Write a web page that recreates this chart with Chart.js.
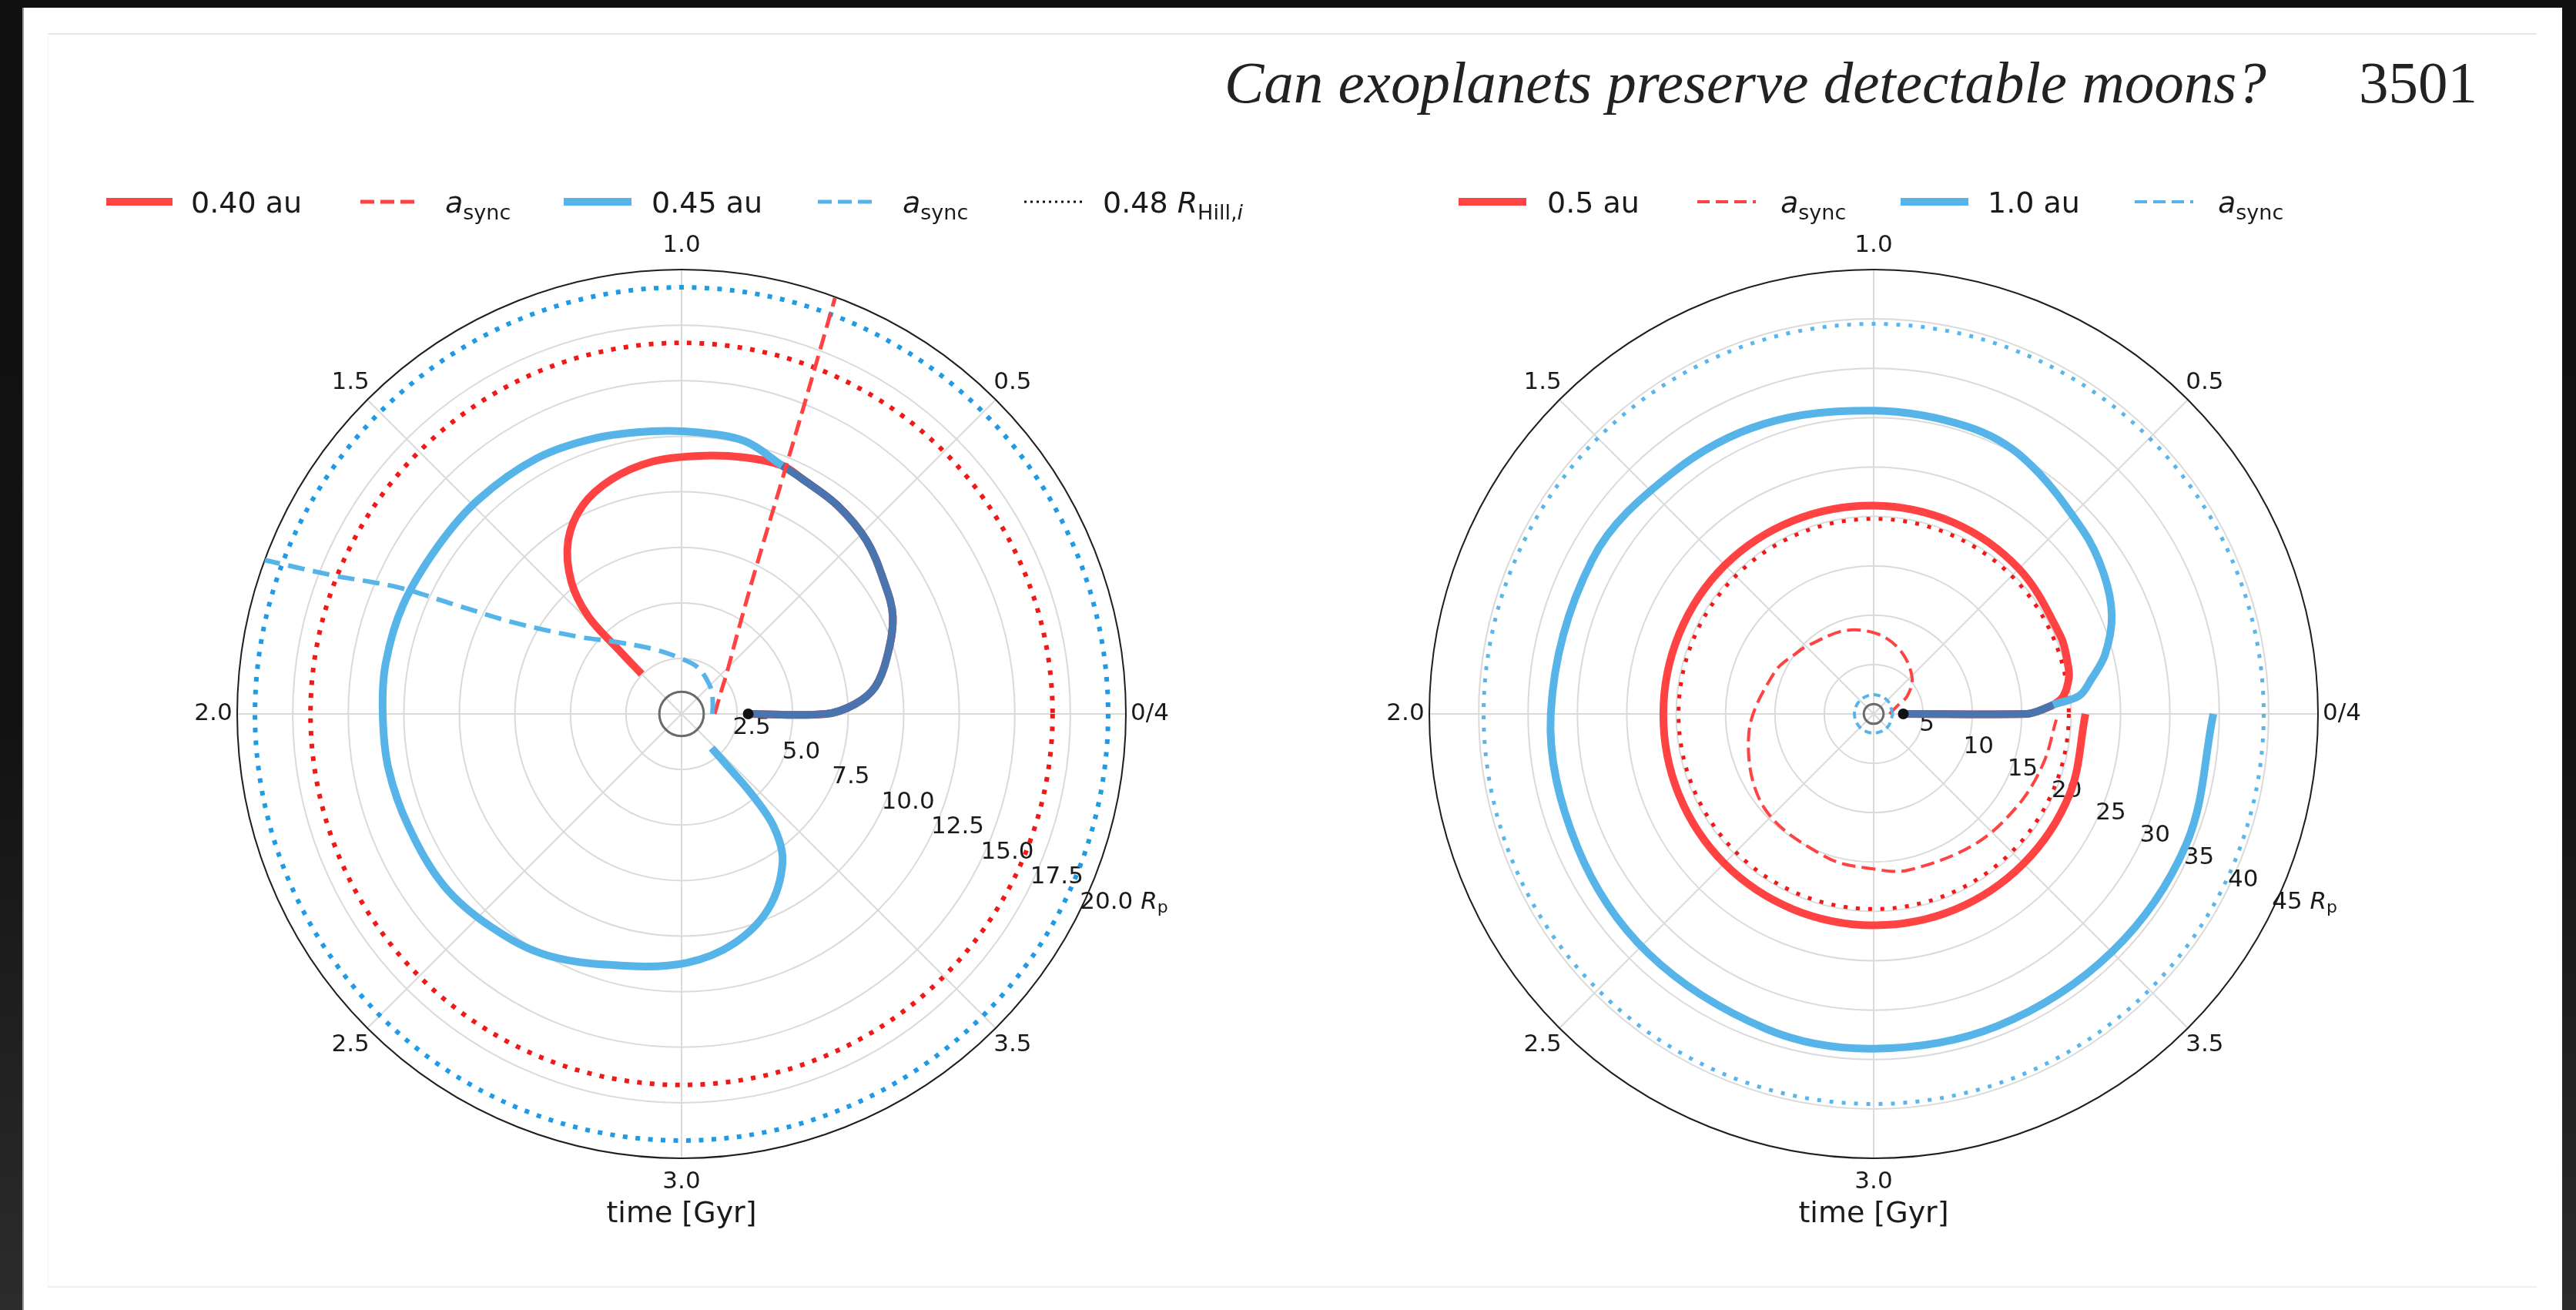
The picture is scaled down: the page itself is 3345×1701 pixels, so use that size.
<!DOCTYPE html>
<html>
<head>
<meta charset="utf-8">
<script src="https://cdn.jsdelivr.net/npm/chart.js@4.4.0/dist/chart.umd.min.js"></script>
<style>
    html, body { margin: 0; padding: 0; }
    body {
        width: 3345px; height: 1701px; position: relative; overflow: hidden;
        background: linear-gradient(#101010 0%, #121212 55%, #2c2c2c 100%);
    }
    #page { position: absolute; left: 29px; top: 10px; width: 3298px; height: 1691px; background: #fff; border-left: 2px solid #9a9a9a; box-sizing: border-box; }
    #frame { position: absolute; left: 62px; top: 43px; width: 3232px; height: 1629px; border-top: 2px solid #e6e6e6; border-left: 1px solid #f3f3f3; border-bottom: 2px solid #efefef; box-sizing: border-box; }
    .head { position: absolute; font-family: "Liberation Serif", serif; font-size: 77px; line-height: 77px; color: #222; white-space: nowrap; }
    canvas { position: absolute; }
</style>
</head>
<body>
<div id="page"></div>
<div id="frame"></div>
<div class="head" style="left:1590px; top:69px; font-style:italic;">Can exoplanets preserve detectable moons?</div>
<div class="head" style="left:3063px; top:69px;">3501</div>
<canvas id="left-chart" width="1600" height="1460" style="left:60px; top:200px;"></canvas>
<canvas id="right-chart" width="1640" height="1460" style="left:1660px; top:200px;"></canvas>
<script>
// shared angular axis: time in Gyr, one full turn = 4 Gyr
const timeTickValues = [0, 0.5, 1, 1.5, 2, 2.5, 3, 3.5];
const timeTickLabels = ['0/4', '0.5', '1.0', '1.5', '2.0', '2.5', '3.0', '3.5'];

// left panel (radius in planet radii)
const leftRMax = 20;
const leftRadialTicks = [2.5, 5, 7.5, 10, 12.5, 15, 17.5, 20];
const leftRadialLabels = ['2.5', '5.0', '7.5', '10.0', '12.5', '15.0', '17.5', '20.0'];
const orbit040Time = [0, 0, 0.036, 0.089, 0.171, 0.275, 0.369, 0.479, 0.591, 0.697, 0.755, 0.846, 0.958, 1.074, 1.184, 1.282, 1.369, 1.442, 1.486, 1.494, 1.5];
const orbit040Radius = [3.0, 6.5, 7.82, 8.81, 9.59, 10.47, 10.89, 11.41, 11.72, 11.89, 12.06, 11.89, 11.64, 11.43, 11.02, 10.38, 9.32, 7.76, 6.06, 4.12, 2.54];
const orbit045Time = [0, 0, 0.036, 0.089, 0.171, 0.275, 0.369, 0.479, 0.591, 0.697, 0.755, 0.854, 0.962, 1.066, 1.196, 1.329, 1.483, 1.617, 1.762, 1.892, 2.0, 2.117, 2.25, 2.398, 2.532, 2.678, 2.869, 3.014, 3.141, 3.267, 3.381, 3.436, 3.458, 3.46, 3.46];
const orbit045Radius = [3.0, 6.5, 7.82, 8.81, 9.59, 10.47, 10.89, 11.41, 11.72, 11.89, 12.06, 12.6, 12.69, 12.79, 13.01, 13.22, 13.29, 13.31, 13.46, 13.51, 13.45, 13.42, 13.29, 13.2, 12.87, 12.43, 11.59, 11.2, 10.61, 9.6, 8.07, 6.57, 4.69, 3.11, 2.05];
const sync040Time = [0, 0.31, 0.47, 0.62, 0.70, 0.74, 0.76, 0.775];
const sync040Radius = [1.49, 1.99, 2.76, 4.54, 7.37, 11.22, 15.1, 19.95];
const sync045Time = [0, 0.25, 0.46, 0.78, 1.01, 1.25, 1.47, 1.593, 1.683, 1.714, 1.733, 1.759, 1.775];
const sync045Radius = [1.39, 1.52, 1.76, 2.21, 2.5, 3.14, 4.38, 5.83, 8.63, 11.31, 14.01, 16.86, 20.0];
const hill040 = 16.7;
const hill045 = 19.2;

// right panel
const rightRMax = 45;
const rightRadialTicks = [5, 10, 15, 20, 25, 30, 35, 40, 45];
const rightRadialLabels = ['5', '10', '15', '20', '25', '30', '35', '40', '45'];
const orbit05Time = [0, 0, 0.01, 0.032, 0.06, 0.116, 0.16, 0.25, 0.5, 0.75, 1.0, 1.25, 1.5, 1.75, 2.0, 2.25, 2.5, 2.75, 3.0, 3.25, 3.5, 3.75, 4.0];
const orbit05Radius = [3.0, 15.5, 16.6, 18.2, 19.3, 20.1, 20.3, 20.5, 20.8, 21.0, 21.1, 21.2, 21.3, 21.3, 21.3, 21.35, 21.4, 21.4, 21.4, 21.45, 21.45, 21.45, 21.45];
const orbit10Time = [0, 0, 0.01, 0.032, 0.056, 0.1, 0.16, 0.25, 0.35, 0.46, 0.66, 0.8, 1.0, 1.23, 1.44, 1.68, 2.0, 2.27, 2.52, 2.79, 3.0, 3.24, 3.5, 3.75, 4.0];
const orbit10Radius = [3.0, 15.5, 16.6, 18.2, 20.9, 22.3, 24.2, 26.1, 27.3, 28.2, 30.0, 30.6, 30.7, 31.4, 31.8, 32.5, 32.7, 32.9, 33.3, 33.7, 33.9, 34.0, 34.1, 34.3, 34.4];
const sync05Time = [0, 0.22, 0.31, 0.48, 0.73, 0.96, 1.21, 1.48, 1.56, 1.75, 2.1, 2.45, 2.8, 3.0, 3.14, 3.42, 3.64, 3.82, 3.98];
const sync05Radius = [1.6, 2.63, 3.84, 5.34, 6.87, 8.07, 8.92, 9.57, 9.9, 10.9, 12.8, 14.6, 15.3, 15.7, 16.2, 16.7, 17.3, 17.9, 18.5];
const sync10Time = [0, 0.5, 1, 1.5, 2, 2.5, 3, 3.5, 4];
const sync10Radius = [1.95, 1.95, 1.95, 1.95, 1.95, 1.95, 1.95, 1.95, 1.95];
const hill05 = 19.76;
const hill10 = 39.5;

const startRadius = 3.0;
const planetRadius = 1.0;

const RED = '#ff4343';
const BLUE = '#56b4e9';
const OVERLAP = '#4a74ad';
const FONT = '"DejaVu Sans", sans-serif';

function toXY(times, radii) {
    return times.map((t, i) => {
        const a = t * Math.PI / 2;
        return { x: radii[i] * Math.cos(a), y: radii[i] * Math.sin(a) };
    });
}

// number of leading points two tracks have in common
function sharedCount(t1, r1, t2, r2) {
    let n = 0;
    while (n < t1.length && n < t2.length && t1[n] === t2[n] && r1[n] === r2[n]) n++;
    return n;
}

function richText(ctx, x, y, parts, size) {
    parts.forEach(p => {
        const s = p.sub ? Math.round(size * 0.7) : size;
        ctx.font = (p.italic ? 'italic ' : '') + s + 'px ' + FONT;
        ctx.fillText(p.t, x, y + (p.sub ? size * 0.24 : 0));
        x += ctx.measureText(p.t).width;
    });
    return x;
}

function orbitDataset(times, radii, color, width, dash, overlapUpTo) {
    return {
        data: toXY(times, radii),
        showLine: true,
        borderColor: color,
        borderWidth: width,
        borderDash: dash || [],
        borderCapStyle: 'butt',
        pointRadius: 0,
        tension: 0.35,
        fill: false,
        segment: overlapUpTo ? {
            borderColor: c => (c.p1DataIndex < overlapUpTo ? OVERLAP : undefined)
        } : undefined
    };
}

function startDot() {
    return { data: toXY([0], [startRadius]), pointRadius: 7, pointBackgroundColor: '#111', pointBorderWidth: 0 };
}

function polarPlugin(opt) {
    return {
        id: 'polarFrame',
        beforeDatasetsDraw(chart) {
            const ctx = chart.ctx;
            const xs = chart.scales.x, ys = chart.scales.y;
            const cx = xs.getPixelForValue(0), cy = ys.getPixelForValue(0);
            const rp = r => xs.getPixelForValue(r) - cx;
            const R = rp(opt.rMax);
            ctx.save();
            // radial grid
            ctx.strokeStyle = '#dadada';
            ctx.lineWidth = 2;
            opt.radialTicks.forEach(r => {
                if (r >= opt.rMax) return;
                ctx.beginPath();
                ctx.arc(cx, cy, rp(r), 0, Math.PI * 2);
                ctx.stroke();
            });
            timeTickValues.forEach(t => {
                const a = t * Math.PI / 2;
                ctx.beginPath();
                ctx.moveTo(cx, cy);
                ctx.lineTo(cx + R * Math.cos(a), cy - R * Math.sin(a));
                ctx.stroke();
            });
            // outer boundary
            ctx.strokeStyle = '#1e1e1e';
            ctx.lineWidth = 2;
            ctx.beginPath();
            ctx.arc(cx, cy, R, 0, Math.PI * 2);
            ctx.stroke();
            // angular tick labels
            ctx.fillStyle = '#1a1a1a';
            ctx.font = '31px ' + FONT;
            ctx.textAlign = 'center';
            ctx.textBaseline = 'middle';
            timeTickValues.forEach((t, i) => {
                const a = t * Math.PI / 2;
                ctx.fillText(timeTickLabels[i], cx + (R + 31) * Math.cos(a), cy - (R + 31) * Math.sin(a));
            });
            ctx.font = '38px ' + FONT;
            ctx.fillText('time [Gyr]', cx, cy + R + 73);
            // radial tick labels
            ctx.textAlign = 'left';
            const la = 26.75 * Math.PI / 180;
            opt.radialTicks.forEach((r, i) => {
                const x = cx + rp(r) * Math.cos(la) + 2;
                const y = cy + rp(r) * Math.sin(la) - 15;
                const parts = [{ t: opt.radialLabels[i] }];
                if (i === opt.radialTicks.length - 1) parts.push({ t: ' ' }, { t: 'R', italic: true }, { t: 'p', sub: true });
                richText(ctx, x, y, parts, 31);
            });
            // Hill radius circles
            opt.hills.forEach(h => {
                ctx.strokeStyle = h.color;
                ctx.lineWidth = h.width;
                ctx.setLineDash(h.dash);
                ctx.beginPath();
                ctx.arc(cx, cy, rp(h.r), 0, Math.PI * 2);
                ctx.stroke();
            });
            ctx.setLineDash([]);
            // planet
            ctx.strokeStyle = '#6a6a6a';
            ctx.lineWidth = 3;
            ctx.beginPath();
            ctx.arc(cx, cy, rp(planetRadius), 0, Math.PI * 2);
            ctx.stroke();
            ctx.restore();
            // clip the tracks to the polar disc
            ctx.save();
            ctx.beginPath();
            ctx.arc(cx, cy, R, 0, Math.PI * 2);
            ctx.clip();
        },
        afterDatasetsDraw(chart) {
            const ctx = chart.ctx;
            ctx.restore();
            // legend
            ctx.save();
            ctx.textAlign = 'left';
            ctx.textBaseline = 'alphabetic';
            opt.legend.forEach(item => {
                const x0 = item.x0 - opt.ox, x1 = item.x1 - opt.ox, y = 262 - opt.oy;
                ctx.strokeStyle = item.color;
                ctx.lineWidth = item.width;
                ctx.setLineDash(item.dash || []);
                ctx.beginPath();
                ctx.moveTo(x0, y);
                ctx.lineTo(x1, y);
                ctx.stroke();
                ctx.setLineDash([]);
                ctx.fillStyle = '#1a1a1a';
                richText(ctx, item.tx - opt.ox, 276 - opt.oy, item.text, 38);
            });
            ctx.restore();
        }
    };
}

function buildChart(canvasId, datasets, opt) {
    new Chart(document.getElementById(canvasId), {
        type: 'scatter',
        data: { datasets: datasets },
        options: {
            responsive: false,
            animation: false,
            events: [],
            layout: { padding: opt.padding },
            scales: {
                x: { display: false, min: -opt.rMax, max: opt.rMax },
                y: { display: false, min: -opt.rMax, max: opt.rMax }
            },
            plugins: { legend: { display: false }, tooltip: { enabled: false } }
        },
        plugins: [polarPlugin(opt)]
    });
}

const asyncText = [{ t: 'a', italic: true }, { t: 'sync', sub: true }];

// Chart.js paints the first dataset last, so the list runs from top layer to bottom layer
const leftShared = sharedCount(orbit040Time, orbit040Radius, orbit045Time, orbit045Radius);
buildChart('left-chart', [
    startDot(),
    orbitDataset(sync045Time, sync045Radius, BLUE, 6, [22, 11]),
    orbitDataset(sync040Time, sync040Radius, RED, 5, [20, 9]),
    orbitDataset(orbit045Time, orbit045Radius, BLUE, 10, null, leftShared),
    orbitDataset(orbit040Time, orbit040Radius, RED, 10)
], {
    rMax: leftRMax, radialTicks: leftRadialTicks, radialLabels: leftRadialLabels,
    ox: 60, oy: 200,
    padding: { left: 248, right: 198, top: 150, bottom: 156 },
    hills: [
        { r: hill040, color: '#f21818', width: 6, dash: [6, 10.5] },
        { r: hill045, color: '#1f9ae6', width: 6, dash: [6, 10.5] }
    ],
    legend: [
        { x0: 138, x1: 224, color: RED, width: 10, tx: 248, text: [{ t: '0.40 au' }] },
        { x0: 468, x1: 545, color: RED, width: 5, dash: [18, 8], tx: 578, text: asyncText },
        { x0: 732, x1: 820, color: BLUE, width: 10, tx: 846, text: [{ t: '0.45 au' }] },
        { x0: 1062, x1: 1140, color: BLUE, width: 5, dash: [18, 8], tx: 1172, text: asyncText },
        { x0: 1330, x1: 1405, color: '#111', width: 3, dash: [3, 5], tx: 1432,
          text: [{ t: '0.48 ' }, { t: 'R', italic: true }, { t: 'Hill,', sub: true }, { t: 'i', sub: true, italic: true }] }
    ]
});

const rightShared = sharedCount(orbit05Time, orbit05Radius, orbit10Time, orbit10Radius);
buildChart('right-chart', [
    startDot(),
    orbitDataset(sync10Time, sync10Radius, BLUE, 4, [9, 6]),
    orbitDataset(sync05Time, sync05Radius, RED, 4, [18, 8]),
    orbitDataset(orbit10Time, orbit10Radius, BLUE, 10, null, rightShared),
    orbitDataset(orbit05Time, orbit05Radius, RED, 10)
], {
    rMax: rightRMax, radialTicks: rightRadialTicks, radialLabels: rightRadialLabels,
    ox: 1660, oy: 200,
    padding: { left: 196, right: 290, top: 150, bottom: 156 },
    hills: [
        { r: hill05, color: '#f21818', width: 5, dash: [5, 11] },
        { r: hill10, color: '#5ab5ea', width: 5, dash: [5, 11] }
    ],
    legend: [
        { x0: 1894, x1: 1982, color: RED, width: 10, tx: 2009, text: [{ t: '0.5 au' }] },
        { x0: 2204, x1: 2280, color: RED, width: 4, dash: [16, 8], tx: 2312, text: asyncText },
        { x0: 2468, x1: 2556, color: BLUE, width: 10, tx: 2581, text: [{ t: '1.0 au' }] },
        { x0: 2772, x1: 2848, color: BLUE, width: 4, dash: [16, 8], tx: 2880, text: asyncText }
    ]
});
</script>
</body>
</html>
